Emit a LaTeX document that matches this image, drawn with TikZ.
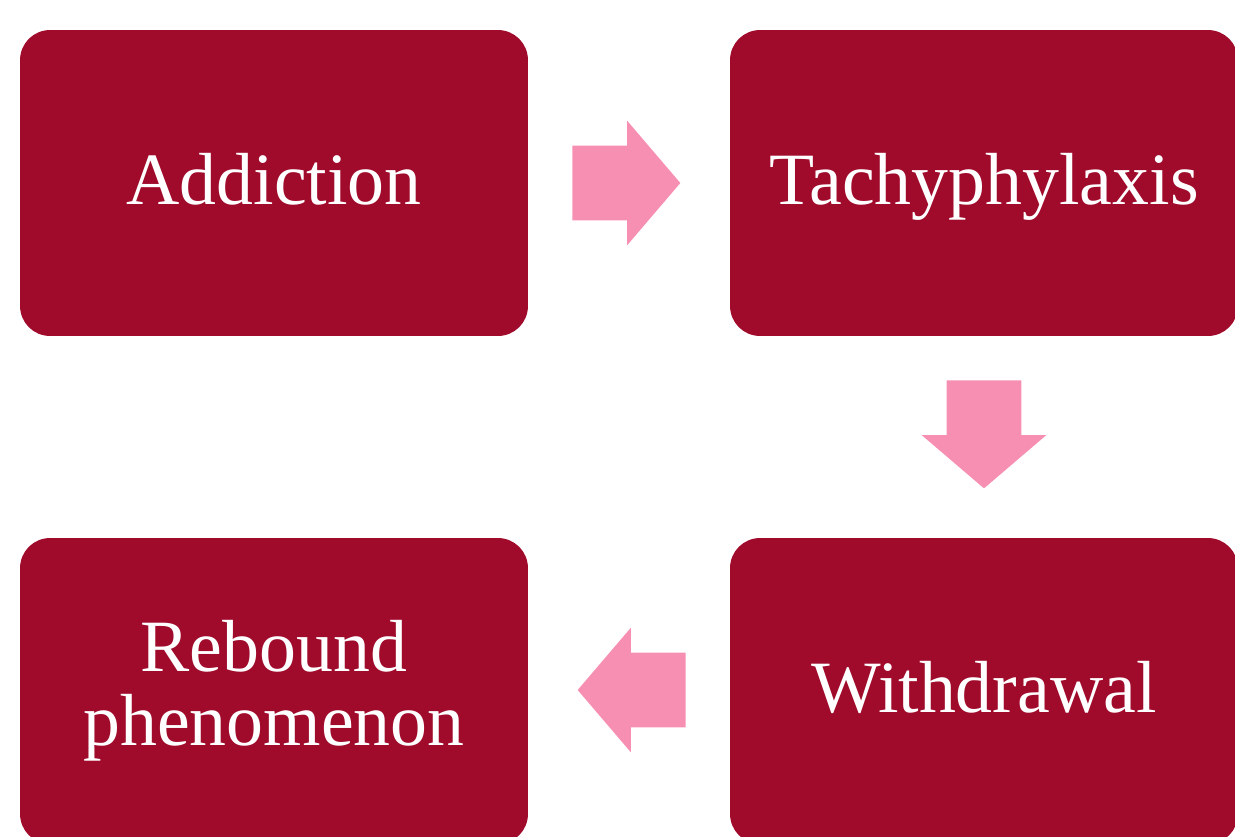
\documentclass[tikz,border=0pt]{standalone}
\usepackage{fontspec}
\setmainfont{Liberation Serif}
\usepackage{tikz}
\usetikzlibrary{positioning,calc,shapes.arrows}
\usepackage{xcolor}
\definecolor{boxred}{RGB}{160,10,43}
\definecolor{arrowpink}{RGB}{247,143,179}
\tikzset{
    stage/.style={
        fill=boxred,
        rounded corners=0.6cm,
        minimum width=10.16cm,
        minimum height=6.12cm,
        text=white,
        align=center,
        inner sep=0pt,
        font=\fontsize{42}{42}\selectfont
    },
    oneline/.style={
        text height=34pt,
        text depth=9pt
    },
    flow/.style={
        single arrow,
        fill=arrowpink,
        draw=none,
        anchor=tail,
        inner xsep=0pt,
        inner ysep=0.74cm,
        minimum height=2.16cm,
        single arrow head extend=0.5cm,
        single arrow tip angle=99,
        single arrow head indent=0pt
    }
}

\begin{document}
\begin{tikzpicture}[x=0.02cm,y=-0.02cm]
    \useasboundingbox (0,0) rectangle (1235,836);
    \begin{scope}
    \clip (0,0) rectangle (1235,836);
    \node[stage, oneline] (addiction) at (274,183) {Addiction};
    \node[stage, oneline] (tachy) at (984,183) {Tachyphylaxis};
    \node[stage, oneline] (withdrawal) at (984,691) {Withdrawal};
    \node[stage] (rebound) at (274,691) {Rebound\\phenomenon};
    \end{scope}

    \node[flow] (a1) at (572,183) {};
    \node[flow, shape border rotate=270, inner xsep=0.74cm, inner ysep=0pt] (a2) at (984,380) {};
    \node[flow, shape border rotate=180] (a3) at (686,690) {};
\end{tikzpicture}
\end{document}
